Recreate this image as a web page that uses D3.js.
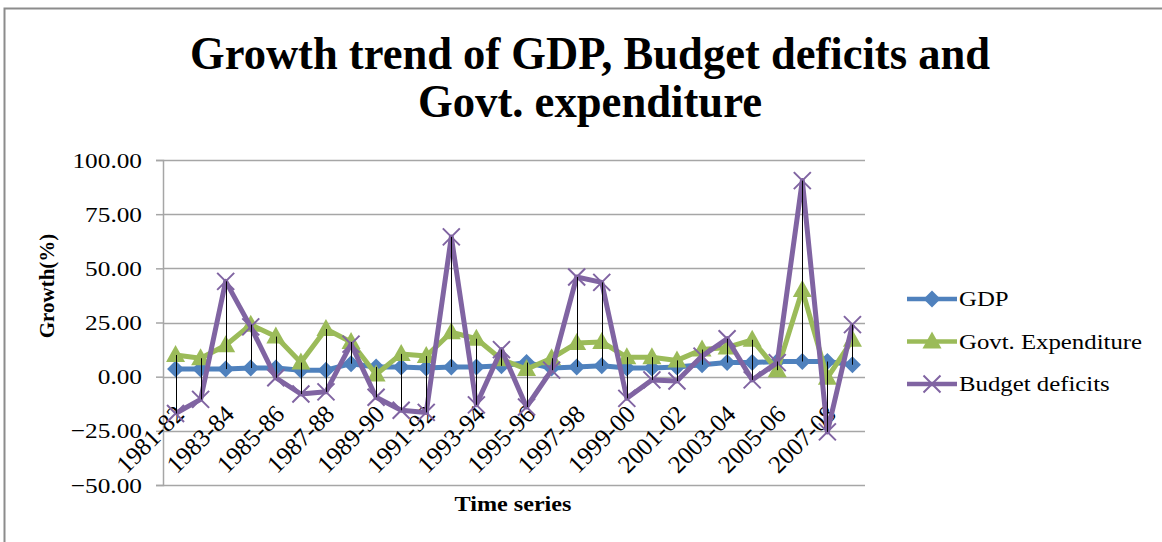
<!DOCTYPE html>
<html>
<head>
<meta charset="utf-8">
<script src="https://cdn.jsdelivr.net/npm/d3@7"></script>
<style>
  body { margin: 0; background: #fff; }
  text { font-family: "Times New Roman", "Liberation Serif", serif; fill: #000; }
</style>
</head>
<body>
<div id="chart"></div>
<script>
// Categories (fiscal years)
const years = ["1981-82", "1982-83", "1983-84", "1984-85", "1985-86", "1986-87", "1987-88",
    "1988-89", "1989-90", "1990-91", "1991-92", "1992-93", "1993-94", "1994-95", "1995-96",
    "1996-97", "1997-98", "1998-99", "1999-00", "2000-01", "2001-02", "2002-03", "2003-04",
    "2004-05", "2005-06", "2006-07", "2007-08", "2008-09"];

// Growth (%)
const gdp = [3.5, 3.5, 3.5, 4, 4, 3, 3, 6, 4.5, 4.5, 4, 4.5, 4.5, 5, 6.5, 4, 4.5, 5, 4, 4,
    4.5, 5.5, 6.5, 6.5, 7, 7, 7, 5.5];
const govtExp = [10, 8.5, 14.5, 24, 18.5, 6.5, 22, 16, 1, 10.5, 9.5, 20.5, 17.5, 8, 3.5, 8.5,
    15.5, 16, 9, 9, 7.5, 12.5, 13.5, 17, 3, 40, -0.5, 17];
const budgetDef = [-17, -10.5, 44, 23, -0.5, -8, -7, 15, -9.5, -15.5, -16.5, 64.5, -13, 12.5,
    -14, 3, 46, 43.5, -10, -1.5, -2, 9.5, 17.5, -1.5, 6.5, 90.5, -25.5, 24];

const yTicks = [-50, -25, 0, 25, 50, 75, 100];
const xLabelYears = years.filter((d, i) => i % 2 === 0);

const series = [
    { name: "GDP", values: gdp, color: "#4F81BD", marker: "diamond" },
    { name: "Govt. Expenditure", values: govtExp, color: "#9BBB59", marker: "triangle" },
    { name: "Budget deficits", values: budgetDef, color: "#8064A2", marker: "cross" }
];

const width = 1162, height = 542;
const plot = { left: 163, right: 865, top: 160, bottom: 485 };

const svg = d3.select("#chart").append("svg")
    .attr("width", width)
    .attr("height", height);

// chart border
svg.append("rect")
    .attr("x", 4.5).attr("y", 8.5)
    .attr("width", 1170).attr("height", 560)
    .attr("fill", "none")
    .attr("stroke", "#8c8c8c")
    .attr("stroke-width", 2);

const x = d3.scaleBand().domain(years).range([plot.left, plot.right]);
const cx = d => x(d) + x.bandwidth() / 2;
const y = d3.scaleLinear().domain([-50, 100]).range([plot.bottom, plot.top]);

// stretch text horizontally a bit, the picture's fonts run wide
function stretch(sel, k) {
    sel.each(function () {
        const w = this.getComputedTextLength();
        d3.select(this).attr("textLength", w * k).attr("lengthAdjust", "spacingAndGlyphs");
    });
}

// gridlines
svg.append("g")
    .selectAll("line")
    .data(yTicks)
    .enter()
    .append("line")
    .attr("x1", plot.left).attr("x2", plot.right)
    .attr("y1", d => Math.round(y(d)) + 0.5).attr("y2", d => Math.round(y(d)) + 0.5)
    .attr("stroke", "#a6a6a6")
    .attr("stroke-width", 1.5);

// y axis
const yAxis = svg.append("g")
    .attr("transform", `translate(${plot.left},0)`)
    .call(d3.axisLeft(y).tickValues(yTicks).tickFormat(d3.format(".2f")).tickSize(7).tickPadding(14));
yAxis.select(".domain").attr("stroke", "#a6a6a6").attr("stroke-width", 1.5);
yAxis.selectAll(".tick line").attr("stroke", "#a6a6a6").attr("stroke-width", 1.5);
yAxis.selectAll(".tick text")
    .attr("font-size", 22)
    .attr("font-family", "'Times New Roman', 'Liberation Serif', serif")
    .attr("fill", "#000")
    .call(stretch, 1.15);

// x category labels, rotated
svg.append("g")
    .selectAll("text")
    .data(xLabelYears)
    .enter()
    .append("text")
    .attr("transform", d => `translate(${cx(d) + 10},${y(-18)}) rotate(-45)`)
    .attr("text-anchor", "end")
    .attr("font-size", 25)
    .text(d => d);

// line generator
const line = d3.line()
    .x((d, i) => cx(years[i]))
    .y(d => y(d));

function drawMarker(g, type, color) {
    if (type === "diamond") {
        g.append("path").attr("d", "M0,-8.5L8.5,0L0,8.5L-8.5,0Z").attr("fill", color);
    } else if (type === "triangle") {
        g.append("path").attr("d", "M0,-10L9.5,7L-9.5,7Z").attr("fill", color);
    } else {
        g.append("path").attr("d", "M-8.5,-8.5L8.5,8.5M-8.5,8.5L8.5,-8.5")
            .attr("stroke", color).attr("stroke-width", 2).attr("fill", "none");
    }
}

series.forEach(s => {
    const g = svg.append("g");
    g.append("path")
        .datum(s.values)
        .attr("fill", "none")
        .attr("stroke", s.color)
        .attr("stroke-width", 5)
        .attr("stroke-linejoin", "round")
        .attr("d", line);
    g.selectAll(".pt")
        .data(s.values)
        .enter()
        .append("g")
        .attr("class", "pt")
        .attr("transform", (d, i) => `translate(${cx(years[i])},${y(d)})`)
        .each(function () { drawMarker(d3.select(this), s.marker, s.color); });
});

// high-low lines
svg.append("g")
    .selectAll("line")
    .data(years)
    .enter()
    .append("line")
    .attr("x1", d => Math.round(cx(d)) + 0.5).attr("x2", d => Math.round(cx(d)) + 0.5)
    .attr("y1", (d, i) => y(Math.max(gdp[i], govtExp[i], budgetDef[i])))
    .attr("y2", (d, i) => y(Math.min(gdp[i], govtExp[i], budgetDef[i])))
    .attr("stroke", "#000")
    .attr("stroke-width", 1);

// title
const title = svg.append("g").attr("font-weight", "bold");
title.append("text")
    .attr("x", 590).attr("y", 69)
    .attr("text-anchor", "middle")
    .attr("font-size", 46)
    .attr("font-weight", "bold")
    .attr("textLength", 800).attr("lengthAdjust", "spacingAndGlyphs")
    .text("Growth trend of GDP, Budget deficits and");
title.append("text")
    .attr("x", 590).attr("y", 117)
    .attr("text-anchor", "middle")
    .attr("font-size", 46)
    .attr("font-weight", "bold")
    .attr("textLength", 344).attr("lengthAdjust", "spacingAndGlyphs")
    .text("Govt. expenditure");

// axis titles
svg.append("text")
    .attr("transform", "translate(54,286) rotate(-90)")
    .attr("text-anchor", "middle")
    .attr("font-size", 21)
    .attr("font-weight", "bold")
    .text("Growth(%)");

svg.append("text")
    .attr("x", 513).attr("y", 511)
    .attr("text-anchor", "middle")
    .attr("font-size", 21)
    .attr("font-weight", "bold")
    .text("Time series")
    .call(stretch, 1.15);

// legend
const legend = svg.append("g");
series.forEach((s, i) => {
    const ly = 299 + i * 42.5;
    legend.append("line")
        .attr("x1", 907).attr("x2", 957)
        .attr("y1", ly).attr("y2", ly)
        .attr("stroke", s.color)
        .attr("stroke-width", 4.5);
    drawMarker(legend.append("g").attr("transform", `translate(932,${ly})`), s.marker, s.color);
    legend.append("text")
        .attr("x", 959).attr("y", ly + 7)
        .attr("font-size", 21)
        .text(s.name)
        .call(stretch, 1.18);
});
</script>
</body>
</html>
